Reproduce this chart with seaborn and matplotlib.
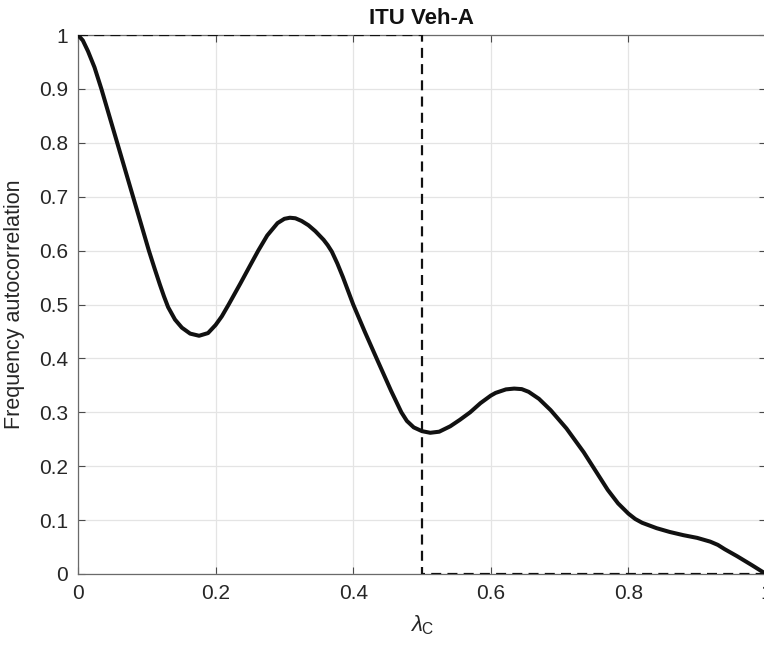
import matplotlib
matplotlib.use("Agg")
import matplotlib.pyplot as plt
import seaborn as sns

# Frequency autocorrelation (lambda_C vs value)
lam = [0.0, 0.007, 0.0145, 0.024, 0.034, 0.057, 0.080, 0.103, 0.111, 0.119,
       0.125, 0.131, 0.141, 0.151, 0.163, 0.176, 0.189, 0.200, 0.209, 0.219,
       0.236, 0.250, 0.262, 0.275, 0.290, 0.300, 0.308, 0.316, 0.325, 0.335,
       0.345, 0.357, 0.363, 0.369, 0.377, 0.385, 0.400, 0.417, 0.434, 0.455,
       0.470, 0.478, 0.488, 0.500, 0.512, 0.525, 0.541, 0.555, 0.570, 0.585,
       0.600, 0.607, 0.622, 0.634, 0.645, 0.655, 0.670, 0.687, 0.710, 0.735,
       0.752, 0.770, 0.785, 0.800, 0.810, 0.820, 0.841, 0.860, 0.880, 0.900,
       0.919, 0.930, 0.940, 0.958, 0.980, 1.0]
autocorr = [1.0, 0.99, 0.97, 0.94, 0.9, 0.8, 0.7, 0.6, 0.568, 0.537,
            0.515, 0.495, 0.472, 0.457, 0.446, 0.442, 0.447, 0.462, 0.478, 0.5,
            0.539, 0.572, 0.6, 0.628, 0.651, 0.659, 0.661, 0.660, 0.655, 0.647,
            0.636, 0.620, 0.610, 0.598, 0.576, 0.551, 0.5, 0.449, 0.4, 0.34,
            0.30, 0.284, 0.272, 0.265, 0.262, 0.264, 0.274, 0.286, 0.300, 0.317,
            0.331, 0.336, 0.3425, 0.344, 0.343, 0.338, 0.325, 0.304, 0.27, 0.226,
            0.192, 0.156, 0.131, 0.112, 0.102, 0.095, 0.085, 0.078, 0.072, 0.067,
            0.060, 0.054, 0.046, 0.033, 0.016, 0.0]

# ideal (rectangular) reference
step_x = [0.0, 0.5, 0.5, 1.0]
step_y = [1.0, 1.0, 0.0, 0.0]

xticks = [0, 0.2, 0.4, 0.6, 0.8, 1]
xticklabels = ["0", "0.2", "0.4", "0.6", "0.8", "1"]
yticks = [0, 0.1, 0.2, 0.3, 0.4, 0.5, 0.6, 0.7, 0.8, 0.9, 1]
yticklabels = ["0", "0.1", "0.2", "0.3", "0.4", "0.5", "0.6", "0.7", "0.8", "0.9", "1"]

sns.set_theme(style="whitegrid")
plt.rcParams['font.family'] = ['Liberation Sans', 'DejaVu Sans']
plt.rcParams['mathtext.fontset'] = 'custom'
plt.rcParams['mathtext.rm'] = 'Liberation Sans'
plt.rcParams['mathtext.it'] = 'Liberation Sans:italic'

txt = '#262626'
fig = plt.figure(figsize=(7.64, 6.51), dpi=100)
ax = fig.add_axes([0.1021, 0.1183, 0.9005, 0.8279])
ax.set_facecolor('white')

sns.lineplot(x=step_x, y=step_y, ax=ax, color='#111111', linewidth=1.6,
             estimator=None, sort=False, zorder=3)
ax.lines[-1].set_dashes((4.5, 2.8))
sns.lineplot(x=lam, y=autocorr, ax=ax, color='#111111', linewidth=2.9,
             estimator=None, sort=False, zorder=4)
ax.lines[-1].set_solid_joinstyle('round')

ax.set_xlim(0, 1)
ax.set_ylim(0, 1)
ax.set_xticks(xticks)
ax.set_xticklabels(xticklabels)
ax.set_yticks(yticks)
ax.set_yticklabels(yticklabels)

ax.grid(True, color='#e4e4e4', linewidth=0.9)
for s in ax.spines.values():
    s.set_visible(True)
    s.set_color('#6a6a6a')
    s.set_linewidth(0.9)
ax.tick_params(axis='both', direction='in', length=5, width=0.8, color='#4a4a4a',
               labelsize=15, labelcolor=txt, pad=7,
               top=True, right=True, bottom=True, left=True)

ax.set_title('ITU Veh-A', fontsize=16, fontweight='bold', color='#111111', pad=8)
ax.set_ylabel('Frequency autocorrelation', fontsize=15.5, color=txt, labelpad=10)
ax.set_xlabel(r'$\lambda_{\mathrm{C}}$', fontsize=16, color=txt, labelpad=8)

fig.savefig('out.png', dpi=100)
